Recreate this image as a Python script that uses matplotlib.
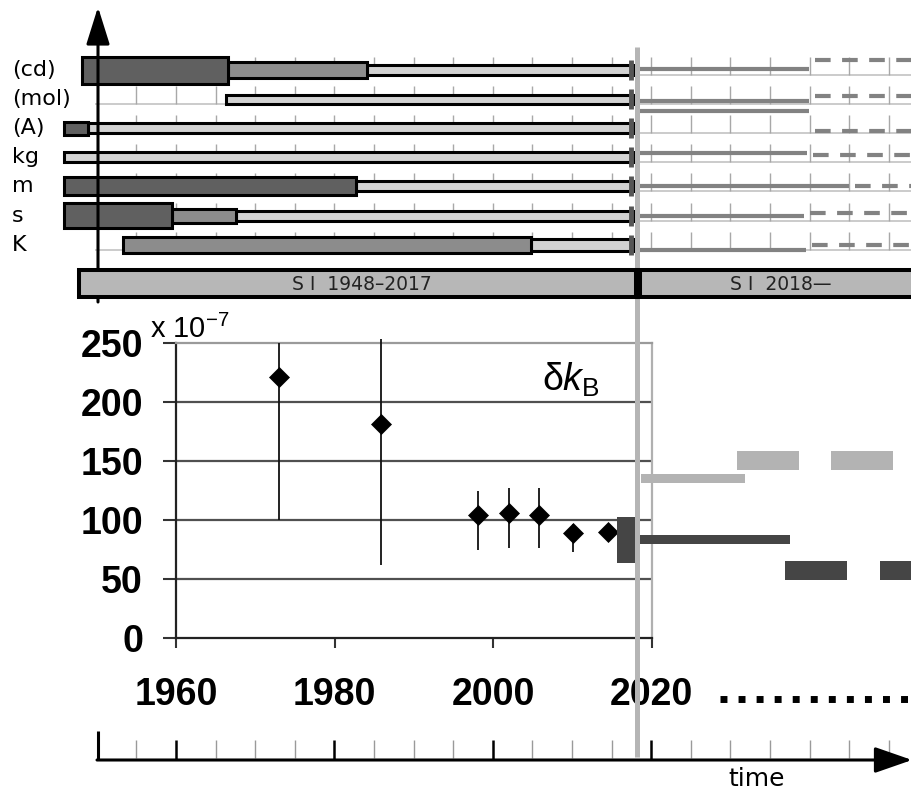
import matplotlib
matplotlib.use("Agg")
import matplotlib.pyplot as plt
import numpy as np

plt.rcParams["mathtext.fontset"] = "custom"
plt.rcParams["mathtext.rm"] = "Liberation Sans"
plt.rcParams["mathtext.it"] = "Liberation Sans:italic"

W, H = 912, 796
PXY = 7.92                      # pixels per year
X0 = 1960 - 176 / PXY
X1 = X0 + W / PXY


def xpx(px):
    """pixel column -> year (layout only)."""
    return X0 + px / PXY


# ---- upper panel: definitions of the SI units
UNITS = ["(cd)", "(mol)", "(A)", "kg", "m", "s", "K"]
DARK_START = [1948.1, np.nan, 1945.9, np.nan, 1945.9, 1945.9, np.nan]
DARK_END = [1966.6, np.nan, 1948.9, np.nan, 1982.7, 1959.5, np.nan]
MID_START = [1966.6, np.nan, np.nan, np.nan, np.nan, 1959.5, 1953.3]
MID_END = [1984.1, np.nan, np.nan, np.nan, np.nan, 1967.6, 2004.8]
LIGHT_START = [1984.1, 1966.3, 1948.9, 1945.9, 1982.7, 1967.6, 2004.8]
OLD_SI_END = 2017.7
NEW_SI_START = 2018.6
NEW_SOLID_END = [2039.9, 2039.9, 2039.9, 2039.7, 2045.0, 2039.3, 2039.5]
SI_NAMES = ["S I  1948–2017", "S I  2018—"]
SI_START = [1947.8, 2018.6]
SI_END = [2018.1, 2055.0]
SI_CHANGE = 2018.27

# ---- lower panel: relative uncertainty of k_B (x 1e-7)
YEARS = [1973.0, 1985.9, 1998.1, 2002.0, 2005.8, 2010.1, 2014.5]
DKB = [221, 181, 104, 106, 104, 89, 90]
ERR_LO = [100, 62, 75, 76, 76, 73, 90]
ERR_HI = [250, 253, 125, 127, 127, 97, 90]
CODATA_X = [2015.7, 2018.0]
CODATA_Y = [63.5, 102.5]
LIGHT_SOLID = [2018.7, 2031.8, 135]
LIGHT_DASHES = [2030.8, 2042.7]
LIGHT_DASH_Y = 150.4
DARK_SOLID = [2018.3, 2037.5, 83.5]
DARK_DASHES = [2036.9, 2048.8]
DARK_DASH_Y = 57
DASH_LEN = 7.8
XTICKS = [1960, 1980, 2000, 2020]
YTICKS = [0, 50, 100, 150, 200, 250]

# sizes / offsets (pixels)
ROW_Y = 70 + 29.1 * np.arange(len(UNITS))
DARK_H = [27, 0, 13, 0, 18, 25, 0]
MID_H = [16, 0, 0, 0, 0, 14, 16]
LIGHT_H = [10, 9, 10, 10, 10, 10, 12]
SOLID_DY = [-1, 2, -17, -4, 0, 0, 5]
DASH_DY = [-10, -3, 3, -2, 0, -3, 0]

DARK, MID, LIGHT = "#606060", "#8c8c8c", "#d2d2d2"
PT = 0.72  # points per pixel

fig = plt.figure(figsize=(W / 100, H / 100), dpi=100)

# ---------------- lower chart
axk = fig.add_axes([176 / W, 1 - 638 / H, (651.5 - 176) / W, (638 - 343) / H])
axk.set_xlim(1960, 2020)
axk.set_ylim(0, 250)
axk.set_xticks(XTICKS)
axk.set_yticks(YTICKS)
for v in YTICKS[1:-1]:
    axk.axhline(v, color="#505050", lw=1.6, zorder=1)
for side, c in (("left", "#222222"), ("bottom", "#222222"),
                ("top", "#9a9a9a"), ("right", "#b0b0b0")):
    axk.spines[side].set_color(c)
    axk.spines[side].set_linewidth(1.6)
axk.tick_params(axis="y", length=13 * PT, width=1.5, color="#333333",
                pad=20 * PT, labelsize=27)
axk.tick_params(axis="x", length=10 * PT, width=1.5, color="#333333",
                pad=29 * PT, labelsize=27)
for lab in axk.get_xticklabels() + axk.get_yticklabels():
    lab.set_family("Liberation Sans")
    lab.set_fontweight("bold")

yerr = [np.array(DKB) - np.array(ERR_LO), np.array(ERR_HI) - np.array(DKB)]
axk.errorbar(YEARS, DKB, yerr=yerr, fmt="none", ecolor="#111111",
             elinewidth=1.3, capsize=0, zorder=3, clip_on=False)
axk.plot(YEARS, DKB, ls="none", marker="D", ms=10.5, color="k",
         mec="k", mew=0.5, zorder=4, clip_on=False)
axk.bar(CODATA_X[0], CODATA_Y[1] - CODATA_Y[0], width=CODATA_X[1] - CODATA_X[0],
        bottom=CODATA_Y[0], align="edge", color="#454545", zorder=4)

axk.barh(LIGHT_SOLID[2], LIGHT_SOLID[1] - LIGHT_SOLID[0], left=LIGHT_SOLID[0],
         height=7.6, color="#b3b3b3", clip_on=False, zorder=4)
axk.barh([LIGHT_DASH_Y] * len(LIGHT_DASHES), DASH_LEN, left=LIGHT_DASHES,
         height=16, color="#b3b3b3", clip_on=False, zorder=4)
axk.barh(DARK_SOLID[2], DARK_SOLID[1] - DARK_SOLID[0], left=DARK_SOLID[0],
         height=7.6, color="#454545", clip_on=False, zorder=4)
axk.barh([DARK_DASH_Y] * len(DARK_DASHES), DASH_LEN, left=DARK_DASHES,
         height=16, color="#454545", clip_on=False, zorder=4)

axk.text(xpx(150), 1 + (343 - 338) / (638 - 343), "x 10$^{-7}$",
         transform=axk.get_xaxis_transform(),
         fontsize=21, family="Liberation Sans", va="baseline")
axk.text(xpx(542), 1 - (391 - 343) / (638 - 343), r"δ$k_{\rm B}$",
         transform=axk.get_xaxis_transform(), fontsize=27,
         family="Liberation Sans", va="baseline")

# ---------------- overlay: schematic, timelines
ax = fig.add_axes([0, 0, 1, 1])
ax.set_zorder(3)
ax.patch.set_alpha(0)
ax.axis("off")
ax.set_xlim(X0, X1)
ax.set_ylim(H, 0)

grid_years = np.arange(1955, 2055, 5)
for y in ROW_Y:
    ax.hlines(y + 5, xpx(95), X1, color="#bdbdbd", lw=1.1, zorder=1)
    ax.vlines(grid_years, y - 13, y + 5, color="#a8a8a8", lw=1.0, zorder=1)

for i, (unit, y) in enumerate(zip(UNITS, ROW_Y)):
    ax.text(xpx(12), y, unit, fontsize=16, va="center", ha="left")
    ax.barh(y, OLD_SI_END - LIGHT_START[i], left=LIGHT_START[i], height=LIGHT_H[i],
            color=LIGHT, edgecolor="k", lw=2.2, zorder=3)
    if not np.isnan(MID_START[i]):
        ax.barh(y, MID_END[i] - MID_START[i], left=MID_START[i], height=MID_H[i],
                color=MID, edgecolor="k", lw=2.2, zorder=4)
    if not np.isnan(DARK_START[i]):
        ax.barh(y, DARK_END[i] - DARK_START[i], left=DARK_START[i], height=DARK_H[i],
                color=DARK, edgecolor="k", lw=2.2, zorder=5)
    ax.vlines(OLD_SI_END - 0.25, y - 10, y + 10, color="#555555", lw=3.5, zorder=6)
    ax.hlines(y + SOLID_DY[i], NEW_SI_START, NEW_SOLID_END[i], color="#828282",
              lw=3, zorder=3)
    ax.plot([NEW_SOLID_END[i] + 0.75, X1 + 2], [y + DASH_DY[i]] * 2, color="#828282",
            lw=3, ls=(0, (3.75, 2.75)), zorder=3)

ax.barh([283.5] * 2, np.array(SI_END) - np.array(SI_START), left=SI_START,
        height=27, color="#b7b7b7", edgecolor="k", lw=2.9, zorder=8)
for name, s, e in zip(SI_NAMES, SI_START, [2018.1, 2053.0]):
    ax.text((s + e) / 2 + 0.5, 284, name, fontsize=13.5, color="#222222",
            ha="center", va="center", zorder=9)

ax.vlines(SI_CHANGE, 47, 757, color="#b5b5b5", lw=3.6, zorder=7)

# vertical arrow of the upper panel
ax.annotate("", xy=(xpx(98), 7), xytext=(xpx(98), 302),
            arrowprops=dict(arrowstyle="-|>,head_length=1.15,head_width=0.36",
                            mutation_scale=20, lw=2.2, color="k",
                            shrinkA=0, shrinkB=0), zorder=6)

# time axis at the bottom
ax.annotate("", xy=(xpx(912), 760), xytext=(xpx(97), 760),
            arrowprops=dict(arrowstyle="-|>,head_length=1.15,head_width=0.4",
                            mutation_scale=20, lw=2.2, color="k",
                            shrinkA=0, shrinkB=0), zorder=6)
minor = [t for t in np.arange(1955, 2055, 5) if t not in XTICKS]
ax.vlines(minor, 740, 758, color="#9a9a9a", lw=1.0, zorder=5)
ax.vlines(XTICKS, 740, 760, color="k", lw=1.8, zorder=5)
ax.vlines(xpx(98), 731, 760, color="k", lw=2.2, zorder=5)
ax.text(xpx(757), 779, "time", fontsize=18, ha="center", va="center")

# "..." beyond 2020
ax.plot([xpx(720), X1 + 1], [699, 699], color="k", lw=5,
        ls=(0, (1, 1.6)), zorder=5)

fig.savefig("out.png", dpi=100)
